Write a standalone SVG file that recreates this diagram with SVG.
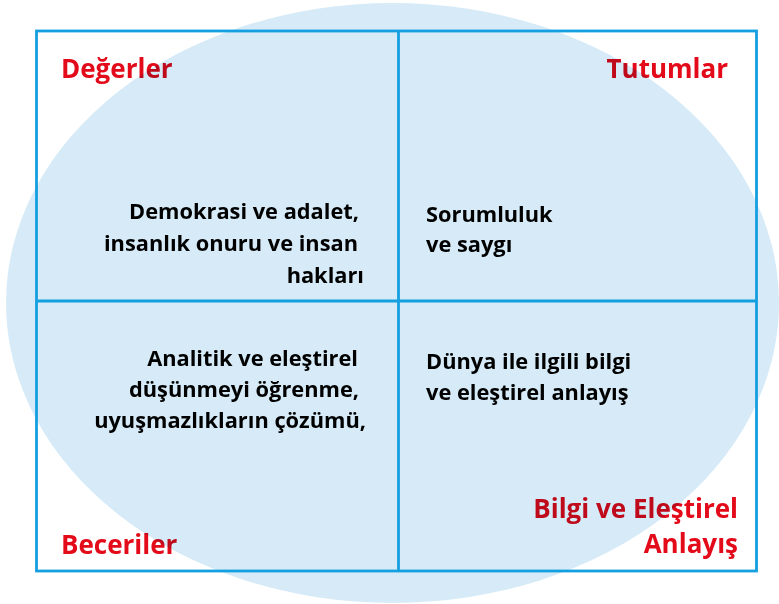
<svg xmlns="http://www.w3.org/2000/svg" width="779" height="604" viewBox="0 0 779 604">
<style>
.bg{fill:#d6ebf7}
.frame{fill:none;stroke:#149fe0;stroke-width:2.8}
.title{font-family:"Open Sans","Liberation Sans",sans-serif;font-weight:700;font-size:26px;fill:#e30a1a;mix-blend-mode:multiply}
.body{font-family:"Open Sans","Liberation Sans",sans-serif;font-weight:700;font-size:21.8px;fill:#000000}
.end{text-anchor:end}
</style>
<rect width="779" height="604" fill="#ffffff"/>
<ellipse class="bg" cx="392.5" cy="303" rx="386.5" ry="300"/>
<g id="connectors">
<rect class="frame" x="36.5" y="31" width="720" height="540"/>
<line class="frame" x1="398.5" y1="31" x2="398.5" y2="571"/>
<line class="frame" x1="36.5" y1="301" x2="756.5" y2="301"/>
</g>
<g id="degerler">
<text class="title" x="61" y="78">Değerler</text>
<text class="body end" y="219" x="359">Demokrasi ve adalet,</text>
<text class="body end" y="251" x="358">insanlık onuru ve insan</text>
<text class="body end" y="283" x="364">hakları</text>
</g>
<g id="tutumlar">
<text class="title end" x="728" y="78">Tutumlar</text>
<text class="body" x="426" y="222">Sorumluluk</text>
<text class="body" x="426" y="252">ve saygı</text>
</g>
<g id="beceriler">
<text class="title" x="61" y="554">Beceriler</text>
<text class="body end" y="366" x="358">Analitik ve eleştirel</text>
<text class="body end" y="397" x="359">düşünmeyi öğrenme,</text>
<text class="body end" y="428" x="366">uyuşmazlıkların çözümü,</text>
</g>
<g id="bilgi">
<text class="title end" x="738" y="518">Bilgi ve Eleştirel</text>
<text class="title end" x="738" y="553">Anlayış</text>
<text class="body" x="426" y="369">Dünya ile ilgili bilgi</text>
<text class="body" x="426" y="400">ve eleştirel anlayış</text>
</g>
</svg>
